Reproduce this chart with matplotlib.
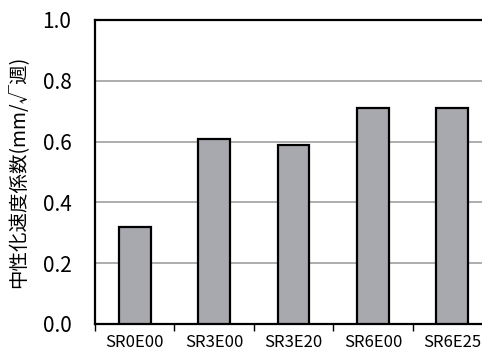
import matplotlib.pyplot as plt

names = ["SR0E00", "SR3E00", "SR3E20", "SR6E00", "SR6E25"]
rates = [0.32, 0.61, 0.59, 0.71, 0.71]
yticks = [0.0, 0.2, 0.4, 0.6, 0.8, 1.0]
ylabel = "中性化速度係数(mm/√週)"

jp = ["Noto Sans CJK JP", "DejaVu Sans"]

fig = plt.figure(figsize=(4.82, 3.51), dpi=100)
ax = fig.add_axes([95 / 482, 27 / 351, 397 / 482, 304 / 351])

x = range(len(names))
ax.bar(x, rates, width=0.4, color="#a7a9ae", edgecolor="black", linewidth=1.6, zorder=3)

ax.set_xlim(-0.5, len(names) - 0.5)
ax.set_ylim(0, 1.0)
ax.set_yticks(yticks)
ax.set_yticklabels(["%.1f" % v for v in yticks], fontsize=15, family=jp)
ax.yaxis.grid(True, color="#a0a0a0", linewidth=1.2, zorder=0)
ax.tick_params(axis="y", length=0, pad=17)

# category boundaries get the tick marks, names sit between them
ax.set_xticks([i - 0.5 for i in range(len(names) + 1)])
ax.set_xticklabels([])
ax.set_xticks(list(x), minor=True)
ax.set_xticklabels(names, minor=True, fontsize=12, family=jp)
ax.tick_params(axis="x", which="major", length=5, width=1, direction="out")
ax.tick_params(axis="x", which="minor", length=0, pad=7)

for s in ax.spines.values():
    s.set_linewidth(1.6)

ax.set_ylabel(ylabel, fontsize=14, family=jp, labelpad=10)

fig.savefig("out.png", dpi=100)
